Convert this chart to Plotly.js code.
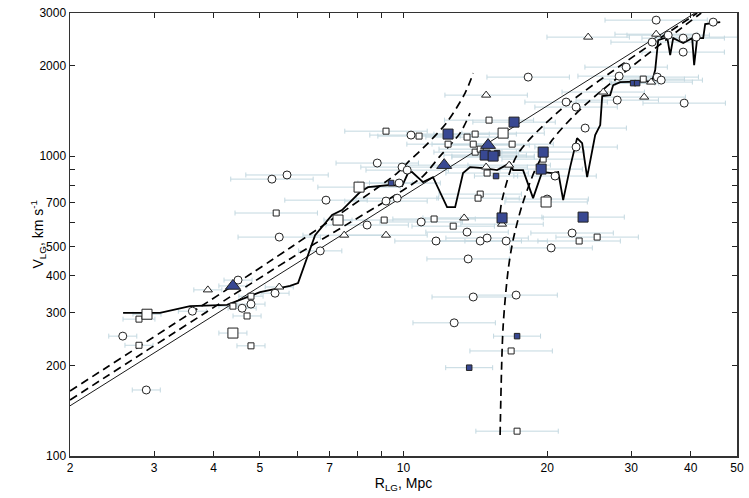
<!DOCTYPE html>
<html>
<head>
<meta charset="utf-8">
<script src="https://cdn.plot.ly/plotly-3.0.1.min.js"></script>
<style>html,body{margin:0;padding:0;background:#fff;}#chart{width:749px;height:498px;}</style>
</head>
<body>
<div id="chart"></div>
<script>
// ---- data (R in Mpc, V in km/s, E = fractional distance error) ----
const circR = [2.58,2.89,3.61,4.50,4.59,4.79,5.38,5.30,5.70,5.49,6.88,6.69,8.39,9.19,9.70,9.79,8.81,9.93,10.18,10.37,10.89,11.70,13.59,13.66,14.00,12.77,14.48,14.97,16.41,20.39,22.56,20.0,20.78,17.22,18.25,21.92,23.0,24.03,23.0,28.05,28.31,29.28,34.02,34.68,33.20,35.87,38.56,41.06,38.56,33.85,44.57,38.75];
const circV = [251,166,304,386,311,321,349,838,865,537,713,483,589,708,724,813,948,919,898,1175,603,521,558,454,339,278,521,533,521,494,554,719,858,344,1834,1514,1457,1240,1072,1537,1848,1980,1834,1792,2399,2531,2474,2493,2222,2840,2797,1502];
const circE = [0.07,0.07,0.07,0.07,0.07,0.07,0.07,0.22,0.22,0.22,0.22,0.11,0.22,0.22,0.22,0.22,0.22,0.22,0.22,0.22,0.22,0.22,0.22,0.22,0.22,0.22,0.22,0.22,0.22,0.22,0.22,0.22,0.22,0.22,0.22,0.22,0.22,0.22,0.22,0.22,0.22,0.22,0.22,0.22,0.22,0.22,0.22,0.22,0.22,0.28,0,0.22];

const sqR = [2.79,2.79,4.79,4.79,4.39,4.70,5.41,9.11,11.59,12.71,9.19,10.78,13.59,14.13,12.40,14.00,14.13,14.48,15.41,15.11,16.89,19.62,14.97,16.81,17.30,23.34,25.46,31.80,14.48,14.33];
const sqV = [286,234,233,341,316,293,646,612,617,584,1211,1166,1157,1184,1096,1096,1031,1055,992,1318,1096,977,878,224,121,521,537,1806,747,724];
const sqE = [0.08,0.07,0.07,0.06,0.07,0.07,0.22,0.22,0.22,0.22,0.22,0.22,0.22,0.22,0.22,0.22,0.22,0.22,0.22,0.24,0.22,0.22,0.22,0.22,0.22,0.22,0.22,0.22,0.22,0.22];

const bigSqR = [2.90,4.39,7.29,8.07,16.17,19.90];
const bigSqV = [297,257,612,788,1193,703];
const bigSqE = [0.07,0.07,0.07,0.22,0.22,0.22];

const triR = [3.89,5.49,7.51,9.19,13.40,16.09,14.90,16.65,14.90,24.38,33.85,33.04,26.22,31.95];
const triV = [358,366,545,545,622,593,919,933,1597,2493,2550,1765,1635,1573];
const triE = [0.07,0.07,0.22,0.22,0.22,0.22,0.22,0.22,0.22,0.22,0.22,0.22,0.22,0.22];

const bSmR = [9.42,15.63,15.71,13.73,17.30,30.29,30.88];
const bSmV = [813,858,1023,197,251,1751,1751];
const bSmE = [0.11,0.11,0.11,0.12,0.12,0.11,0.11];

const bBigR = [12.40,17.05,14.83,15.41,19.62,19.43,16.09,23.79];
const bBigV = [1184,1298,1008,1000,1031,905,622,626];
const bBigE = [0.22,0.22,0.22,0.22,0.22,0.22,0.22,0.22];

const bTriR = [4.39,12.17,15.04];
const bTriV = [369,933,1088];
const bTriE = [0.07,0.22,0.22];

// model / running curves
const hubbleR = [2, 40.8];
const hubbleV = [147, 3000];
const lgUpR = [2,5.78,9.70,10.18,11.26,12.34,13.46,14.0];
const lgUpV = [164.7,494,878,948,1105,1298,1622,1891];
const lgLoR = [2,5.78,9.84,10.99,11.93,13.14,13.79];
const lgLoV = [153.7,454,759,858,1000,1193,1391];
const virAR = [15.94,16.09,17.30,21.3,29.58,41.26];
const virAV = [646,713,1008,1423,2089,3000];
const virBR = [15.94,16.17,16.57,16.97,17.73,18.87,20.49,24.26,42.06];
const virBV = [117.5,269,417,525,687,898,1131,1502,3000];
const runR = [2.584,3.088,3.570,4.267,5.005,5.784,6.012,6.527,7.085,7.434,8.110,8.430,9.374,9.933,10.22,10.42,10.99,11.53,12.34,12.83,13.33,13.79,14.69,15.71,16.73,16.97,17.81,18.69,19.52,20.49,21.10,21.61,22.35,23.11,23.68,24.26,25.22,25.84,26.09,27.11,27.51,28.45,33.20,33.69,34.18,35.70,36.22,36.75,38.57,40.27,40.66,41.26,42.47,42.88,46.11];
const runV = [300,300,316,319,352,369,377,545,636,661,759,788,801,794,878,885,819,851,676,676,878,919,912,898,948,898,898,724,885,878,885,713,919,1148,1105,851,1175,1269,1585,1597,1725,1765,1778,1935,2436,2493,2171,2474,2381,2474,2010,2474,2474,2754,2797];

const xTickVals = [2,3,4,5,6,7,8,9,10,20,30,40,50];
const xTickText = ['2','3','4','5','','7','','','10','20','30','40','50'];
const yTickVals = [100,200,300,400,500,600,700,800,900,1000,2000,3000];
const yTickText = ['100','200','300','400','500','','700','','','1000','2000','3000'];

// ---- traces ----
const ERRC = '#c3d8e0';
function errTrace(R, V, E) {
  return {
    x: R, y: V, type: 'scatter', mode: 'markers', hoverinfo: 'skip',
    marker: {size: 1, opacity: 0},
    error_x: {type: 'data', symmetric: false,
      array: R.map((r, i) => r * E[i]),
      arrayminus: R.map((r, i) => r - r / (1 + E[i])),
      color: ERRC, thickness: 1, width: 2.5}
  };
}
function mk(R, V, symbol, size, fill) {
  return {x: R, y: V, type: 'scatter', mode: 'markers',
    marker: {symbol: symbol, size: size, color: fill, line: {color: '#222', width: 1}}};
}
function ln(R, V, width, dash, shape) {
  return {x: R, y: V, type: 'scatter', mode: 'lines',
    line: {color: '#000', width: width, dash: dash, shape: shape || 'linear', smoothing: 0.8}};
}
const BLUE = '#384892';
const traces = [
  errTrace(circR, circV, circE), errTrace(sqR, sqV, sqE), errTrace(bigSqR, bigSqV, bigSqE),
  errTrace(triR, triV, triE), errTrace(bSmR, bSmV, bSmE), errTrace(bBigR, bBigV, bBigE),
  errTrace(bTriR, bTriV, bTriE),
  ln(hubbleR, hubbleV, 0.9, 'solid'),
  ln(lgUpR, lgUpV, 1.7, '8px,5px', 'spline'),
  ln(lgLoR, lgLoV, 1.7, '8px,5px', 'spline'),
  ln(virAR, virAV, 1.7, '8px,5px', 'spline'),
  ln(virBR, virBV, 1.7, '8px,5px', 'spline'),
  ln(runR, runV, 1.8, 'solid'),
  mk(circR, circV, 'circle', 8, '#fff'),
  mk(sqR, sqV, 'square', 6, '#fff'),
  mk(bigSqR, bigSqV, 'square', 10, '#fff'),
  mk(triR, triV, 'triangle-up', 8, '#fff'),
  mk(bSmR, bSmV, 'square', 5.5, BLUE),
  mk(bBigR, bBigV, 'square', 10, BLUE),
  mk(bTriR, bTriV, 'triangle-up', 13, BLUE)
];

const axisCommon = {
  type: 'log', showgrid: false, zeroline: false, showline: true, linecolor: '#333', linewidth: 1.5,
  mirror: 'ticks', ticks: 'inside', ticklen: 5, tickwidth: 1, tickcolor: '#222',
  tickfont: {size: 12, color: '#000'}
};
const layout = {
  width: 749, height: 498, showlegend: false,
  margin: {l: 70, r: 12, t: 13, b: 42, pad: 0},
  paper_bgcolor: '#fff', plot_bgcolor: '#fff',
  font: {family: 'Liberation Sans, Arial, Helvetica, sans-serif', size: 12, color: '#000'},
  xaxis: Object.assign({}, axisCommon, {
    range: [Math.log10(2), Math.log10(50)], tickmode: 'array', tickvals: xTickVals, ticktext: xTickText,
    title: {text: 'R<sub>LG</sub>, Mpc', font: {size: 14}, standoff: 2}
  }),
  yaxis: Object.assign({}, axisCommon, {
    range: [2, Math.log10(3000)], tickmode: 'array', tickvals: yTickVals, ticktext: yTickText
  }),
  annotations: [{
    text: 'V<sub>LG</sub>, km s<sup>-1</sup>', xref: 'paper', yref: 'paper',
    x: -0.048, y: 0.5, xanchor: 'center', yanchor: 'middle', textangle: -90,
    showarrow: false, font: {size: 14, color: '#000'}
  }]
};
Plotly.newPlot('chart', traces, layout, {displayModeBar: false, staticPlot: true});
</script>
</body>
</html>
